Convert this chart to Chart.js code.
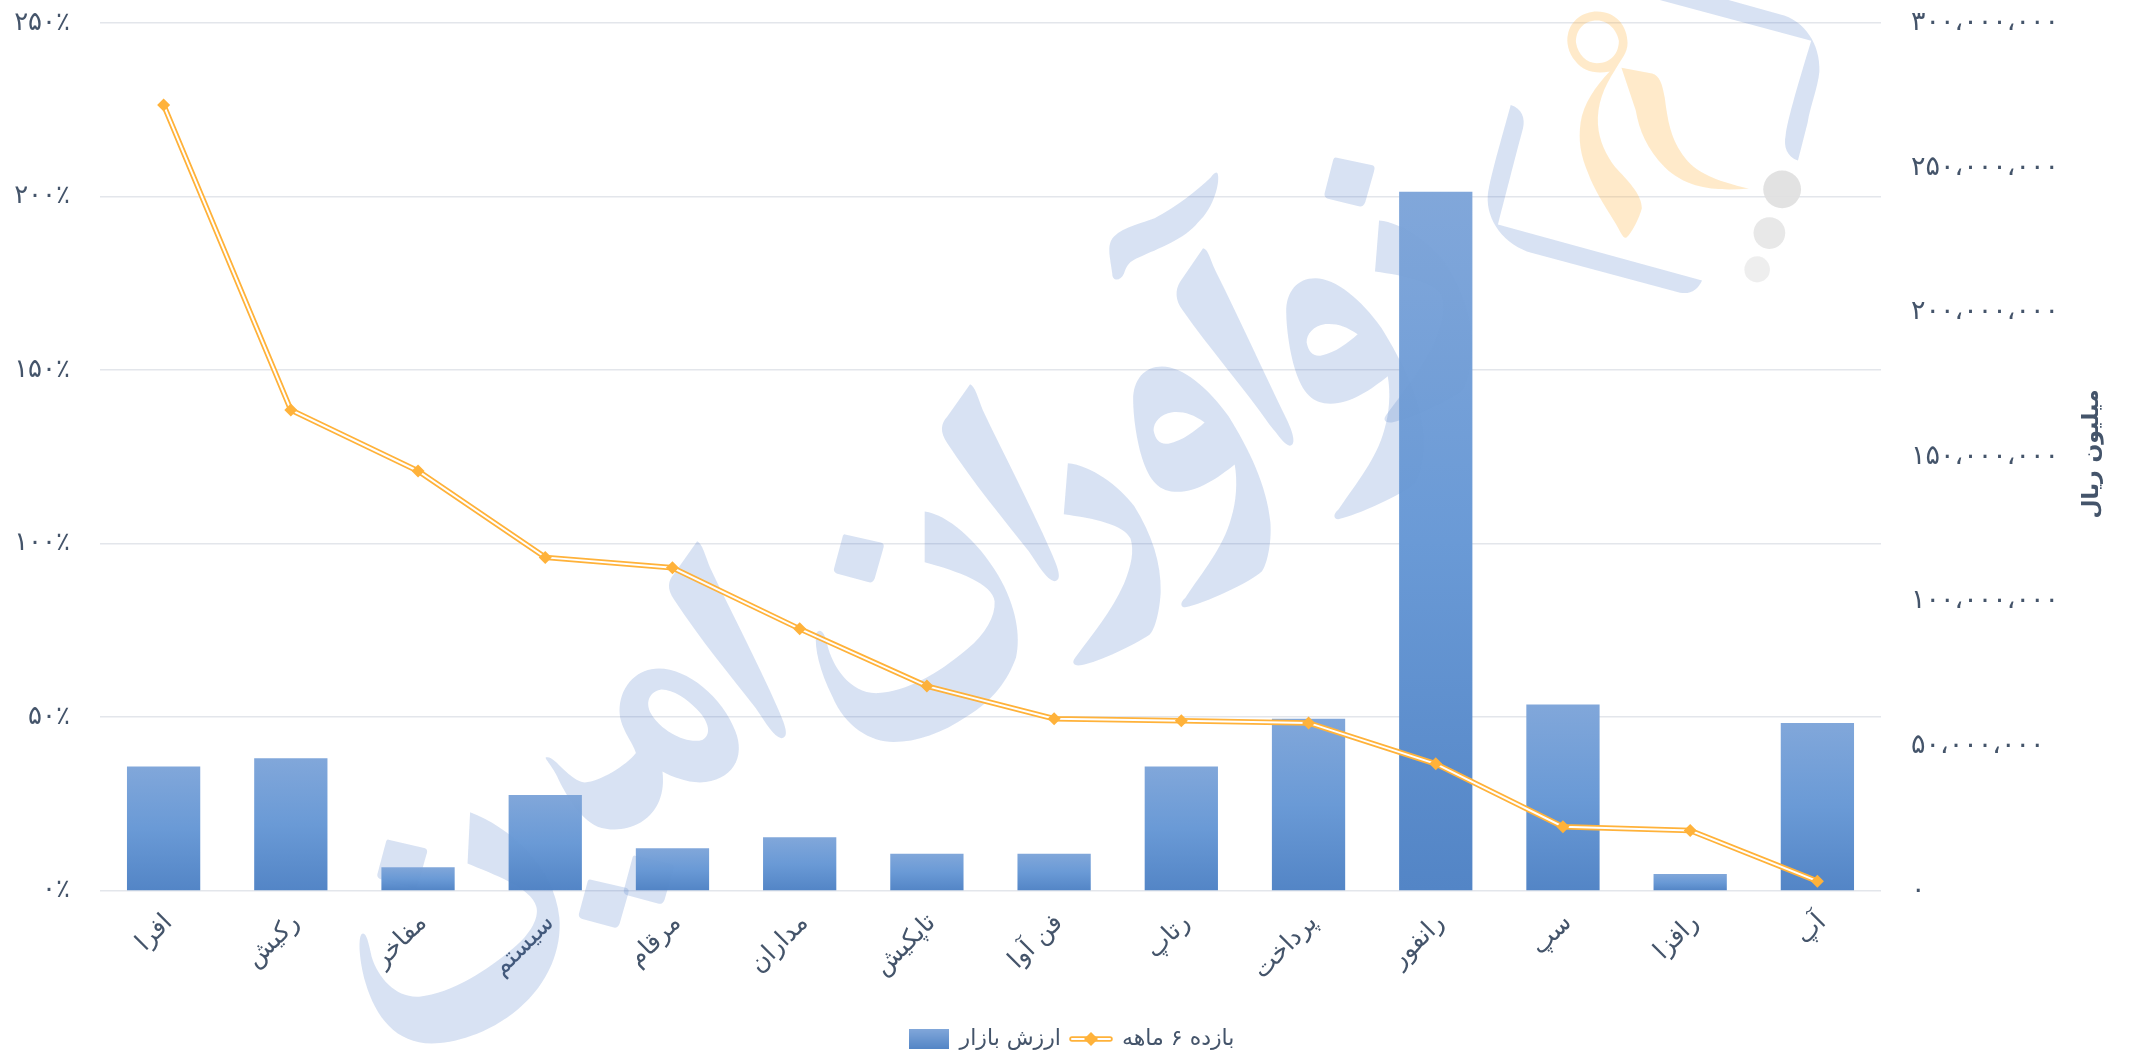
<!DOCTYPE html>
<html lang="fa">
<head>
<meta charset="utf-8">
<style>html,body{margin:0;padding:0;background:#fff}canvas{display:block}</style>
<script src="https://cdn.jsdelivr.net/npm/chart.js@4"></script>
</head>
<body>
<canvas id="c" width="2133" height="1060"></canvas>
<script>
const categories = ['افرا','رکیش','مفاخر','سیستم','مرقام','مداران','تاپکیش','فن آوا','رتاپ','پرداخت','رانفور','سپ','رافزا','آپ'];
const marketValue = [42900000,45700000,8000000,33000000,14600000,18400000,12700000,12700000,42900000,59400000,241600000,64300000,5700000,57900000];
const sixMonthReturn = [226.4,138.5,120.9,96,93,75.4,58.9,49.5,48.9,48.3,36.5,18.4,17.3,2.7];
const barLabel = 'ارزش بازار';
const lineLabel = 'بازده ۶ ماهه';
const rightTitle = 'میلیون ریال';
const FONT = '"DejaVu Sans"';
const TEXT = '#44546A';

const fa = s => String(s).replace(/\d/g, d => '۰۱۲۳۴۵۶۷۸۹'[d]);
const faNum = v => fa(String(v).replace(/\B(?=(\d{3})+$)/g, '،'));

function legendIcon(kind){
  const c = document.createElement('canvas');
  const x = c.getContext('2d');
  if(kind === 'bar'){
    c.width = 40; c.height = 20;
    const g = x.createLinearGradient(0,0,0,20);
    g.addColorStop(0,'#81A7DA'); g.addColorStop(1,'#5385C6');
    x.fillStyle = g; x.fillRect(0,0,40,20);
  } else {
    c.width = 44; c.height = 14;
    x.strokeStyle = '#FFB23A'; x.lineWidth = 5.5; x.lineCap='round';
    x.beginPath(); x.moveTo(3,7); x.lineTo(41,7); x.stroke();
    x.strokeStyle = '#fff'; x.lineWidth = 2;
    x.beginPath(); x.moveTo(3,7); x.lineTo(41,7); x.stroke();
    x.fillStyle = '#FFB23A';
    x.beginPath(); x.moveTo(22,0); x.lineTo(29,7); x.lineTo(22,14); x.lineTo(15,7); x.closePath(); x.fill();
  }
  return c;
}

/* Decorative background logo (an image in the reference), traced as paths. */
const R1 = [1/1.96,0,0,1/2.45,1050,0];
const R2 = [1/1.96,0,0,1/2.306,340,380];
const madde = 'M328,424C335,440 322,510 290,545C265,585 210,610 175,630C155,640 150,650 145,670C138,690 122,690 122,670C118,630 110,600 125,580C145,555 185,545 205,535C250,505 290,465 315,435C320,426 325,420 328,424Z';
const alefA = 'M300,608C310,610 312,630 325,665C375,790 420,915 465,1030C478,1065 482,1090 470,1092C460,1090 450,1070 430,1040C380,950 310,850 260,760C245,735 245,710 255,690Z';
const waw = 'M220,898C260,898 310,950 350,1020C390,1100 425,1190 432,1280C435,1330 425,1385 415,1400C395,1425 300,1480 265,1488C255,1488 255,1475 265,1465C300,1400 340,1340 355,1270C365,1230 368,1180 362,1138C330,1170 290,1205 250,1205C215,1205 195,1180 180,1120C170,1080 163,1020 163,980C163,930 185,898 220,898Z M303,1035C280,1015 262,1008 240,1010C215,1015 203,1035 203,1055C207,1078 215,1090 232,1087C260,1080 285,1055 303,1035Z';
const reh = 'M35,1135C80,1140 135,1190 165,1240C200,1310 218,1380 217,1450C215,1500 205,1545 195,1555C165,1580 100,1620 60,1630C45,1632 42,1622 50,1610C85,1550 120,1500 145,1430C160,1385 165,1350 158,1320C145,1285 85,1270 27,1260Z';
const dotA = 'M560,386L632,405C638,408 636,415 635,420L618,495C615,505 610,508 603,505L545,487C538,484 537,478 539,470L555,392C556,388 558,386 560,386Z';
const bracketTop = 'M1195,0L1330,0L1430,35C1480,50 1510,110 1508,175C1505,215 1490,260 1485,300L1466,393C1445,385 1437,360 1442,330C1445,295 1470,190 1492,100Z';
const bracketLow = 'M903,257C925,265 932,290 927,315C915,370 905,420 878,550L1278,687C1270,710 1255,722 1235,717L945,620C890,600 855,540 858,480C860,445 885,340 903,257Z';
const alefB = 'M1235,10C1245,15 1250,40 1260,70C1300,170 1350,280 1395,400C1410,440 1415,462 1400,464C1385,460 1370,430 1350,395C1300,320 1240,235 1190,145C1175,120 1178,100 1190,85Z';
const noon1 = 'M1146,303C1190,310 1250,370 1290,450C1325,520 1335,590 1325,640C1310,690 1280,740 1230,775C1180,815 1130,835 1085,835C1040,835 990,800 965,730C940,670 930,620 933,585C940,570 950,580 955,610C965,660 1000,725 1055,722C1110,718 1170,680 1230,620C1265,585 1285,545 1283,510C1280,470 1210,440 1146,420Z';
const dotB = 'M990,356L1060,375C1068,378 1066,385 1064,392L1048,458C1045,467 1040,468 1035,466L975,447C968,444 967,438 969,432L985,362C986,357 988,355 990,356Z';
const meem = 'M625,665C680,665 750,730 775,810C795,870 770,925 705,928C680,928 650,915 632,903C637,950 625,995 590,1020C560,1040 530,1040 505,1030C470,1010 445,960 430,925C415,885 397,870 405,870C420,865 450,925 480,928C510,925 560,890 580,860C575,835 545,800 548,755C552,700 585,665 625,665Z M628,714C605,720 598,745 610,770C630,810 680,840 710,830C728,820 725,790 700,760C680,735 650,712 628,714Z';
const noon2 = 'M255,997C330,1030 420,1120 430,1240C435,1310 410,1390 350,1450C290,1510 220,1530 180,1530C110,1530 70,1470 50,1390C38,1340 35,1290 42,1278C50,1270 55,1290 62,1330C75,1380 110,1425 155,1422C220,1415 290,1360 340,1310C375,1275 390,1240 385,1215C375,1170 300,1140 250,1115Z';
const figure = 'M1072,28C1110,28 1132,65 1132,105C1132,130 1120,145 1108,170C1085,215 1072,255 1074,305C1076,345 1090,380 1108,410C1130,440 1160,475 1160,510C1155,535 1140,570 1130,582C1122,585 1118,565 1105,540C1085,500 1065,460 1055,425C1040,380 1035,345 1040,300C1045,255 1070,210 1097,175C1070,182 1045,175 1030,150C1015,130 1012,100 1015,85C1020,50 1045,28 1072,28Z M1072,50C1045,50 1030,75 1031,105C1035,135 1052,155 1072,155C1100,155 1115,130 1115,100C1112,75 1095,50 1072,50Z';
const swoosh = 'M1120,166L1180,180C1195,185 1200,205 1205,240C1212,310 1220,350 1250,395C1280,435 1330,450 1370,462C1310,468 1250,465 1205,410C1170,365 1155,320 1148,270Z';

function drawLogo(ctx,k){
  const blue = 'rgba(68,114,196,'+(0.21*k)+')';
  const orange = 'rgba(255,178,58,'+(0.27*k)+')';
  const put = (frame,d,dx,dy,color) => {
    ctx.save();
    ctx.setTransform(frame[0],0,0,frame[3],frame[4]+(dx||0)*frame[0],frame[5]+(dy||0)*frame[3]);
    ctx.fillStyle = color||blue;
    ctx.fill(new Path2D(d),'evenodd');
    ctx.restore();
  };
  put(R1,madde); put(R1,alefA); put(R1,waw); put(R1,waw,300,-216); put(R1,reh); put(R1,reh,610,-595);
  put(R1,dotA); put(R1,bracketTop); put(R1,bracketLow);
  put(R2,alefB); put(R2,alefB,-535,362); put(R2,noon1); put(R2,dotB); put(R2,meem); put(R2,noon2);
  put(R2,dotB,-895,704); put(R2,dotB,-500,796); put(R2,dotB,-412,741);
  put(R1,figure,0,0,orange); put(R1,swoosh,0,0,orange);
  ctx.save();
  ctx.setTransform(R1[0],0,0,R1[3],R1[4],R1[5]);
  [[1435,464,37,46,'#E0E0E0'],[1410,571,31,39,'#E6E6E6'],[1386,660,25,32,'#EDEDED']].forEach(e=>{
    ctx.globalAlpha=k;ctx.fillStyle=e[4];ctx.beginPath();ctx.ellipse(e[0],e[1],e[2],e[3],0,0,Math.PI*2);ctx.fill();
  });
  ctx.restore();
}

const overlay = {
  id:'overlay',
  beforeDatasetsDraw(chart){ drawLogo(chart.ctx,0.92); },
  afterDatasetsDraw(chart){ drawLogo(chart.ctx,0.08); },
  afterDraw(chart){
    const ctx = chart.ctx;
    ctx.save();
    ctx.translate(2092, 454);
    ctx.rotate(-Math.PI/2);
    ctx.direction='rtl'; ctx.textAlign='center'; ctx.textBaseline='middle';
    ctx.font = 'bold 22px '+FONT; ctx.fillStyle = TEXT;
    ctx.fillText(rightTitle,0,0);
    ctx.restore();
  }
};

new Chart(document.getElementById('c'),{
  data:{
    labels:categories,
    datasets:[
      {type:'bar',label:barLabel,data:marketValue,yAxisID:'y1',order:4,
       barPercentage:0.64,categoryPercentage:0.9,
       backgroundColor(ctx){
         const c=ctx.chart, s=c.scales.y1;
         if(!c.chartArea||!s||ctx.raw==null) return '#6C97D0';
         const g=c.ctx.createLinearGradient(0,s.getPixelForValue(ctx.raw),0,s.getPixelForValue(0));
         g.addColorStop(0,'#81A7DA');g.addColorStop(0.5,'#6A9AD6');g.addColorStop(1,'#5385C6');
         return g;
       }},
      {type:'line',label:lineLabel,data:sixMonthReturn,yAxisID:'y',order:3,
       borderColor:'#FFB23A',borderWidth:5.5,pointRadius:0,tension:0},
      {type:'line',label:'_inner',data:sixMonthReturn,yAxisID:'y',order:2,
       borderColor:'#FFFFFF',borderWidth:2,pointRadius:0,tension:0},
      {type:'line',label:'_points',data:sixMonthReturn,yAxisID:'y',order:1,
       showLine:false,pointStyle:'rectRot',pointRadius:6.5,pointBackgroundColor:'#FFB23A',pointBorderWidth:0}
    ]
  },
  plugins:[overlay],
  options:{
    responsive:false,animation:false,
    layout:{padding:{top:23,right:0,bottom:0,left:10}},
    scales:{
      x:{grid:{display:false},border:{display:false},
         afterFit(s){s.height=127.5;s.paddingLeft=0;s.paddingRight=0;},
         ticks:{color:TEXT,font:{family:FONT,size:25},minRotation:45,maxRotation:45,padding:10,labelOffset:5,autoSkip:false}},
      y:{position:'left',min:0,max:250,
         grid:{color:'#E3E6EB',lineWidth:1.5,drawTicks:false},border:{display:false},
         afterFit(s){s.width=90;s.paddingTop=0;s.paddingBottom=0;},
         ticks:{stepSize:50,color:TEXT,font:{family:FONT,size:26},padding:30,callback:v=>fa(v)+'٪'}},
      y1:{position:'right',min:0,max:300000000,
         grid:{display:false},border:{display:false},
         afterFit(s){s.width=252;s.paddingTop=0;s.paddingBottom=0;},
         ticks:{stepSize:50000000,color:TEXT,font:{family:FONT,size:27},padding:22,callback:v=>faNum(v)}}
    },
    plugins:{
      title:{display:false},tooltip:{enabled:false},
      legend:{position:'bottom',align:'center',
        labels:{usePointStyle:true,pointStyleWidth:40,color:TEXT,font:{family:FONT,size:22},padding:10,
          generateLabels:()=>[
            {text:barLabel,pointStyle:legendIcon('bar'),datasetIndex:0,fontColor:TEXT,fillStyle:'#6C97D0',strokeStyle:'transparent',lineWidth:0},
            {text:lineLabel,pointStyle:legendIcon('line'),datasetIndex:1,fontColor:TEXT,fillStyle:'#FFB23A',strokeStyle:'transparent',lineWidth:0}
          ]},
        textDirection:'rtl'}
    }
  }
});
</script>
</body>
</html>
